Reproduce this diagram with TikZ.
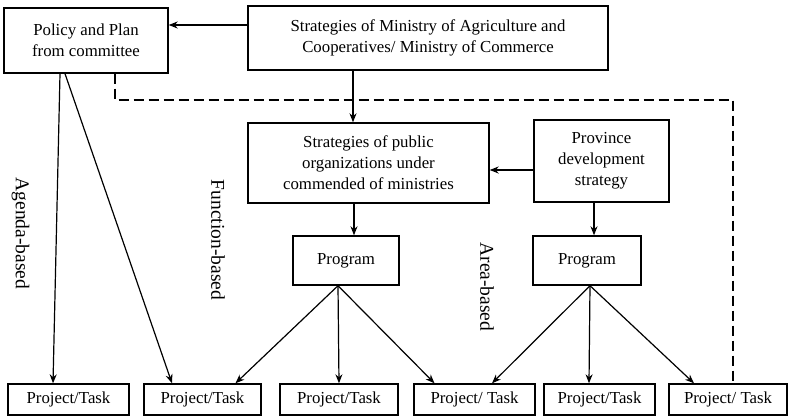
\documentclass[tikz,border=0pt]{standalone}
\usepackage{fontspec}
\setmainfont{Liberation Serif}
\usetikzlibrary{arrows.meta}

\begin{document}
\begin{tikzpicture}[x=1pt, y=-1pt, >={Stealth[length=9pt, width=7pt]},
	every box/.style={draw, line width=1.4pt, align=center, inner sep=0pt, font=\fontsize{16.8}{21}\selectfont},
	every link/.style={->, line width=1.2pt},
	every side/.style={rotate=-90, font=\fontsize{19.5}{22}\selectfont}]
	
	\useasboundingbox (0,0) rectangle (790,417);
	
	\node [every box, minimum width=164, minimum height=65] (policy) at (86,40.5) {Policy and Plan\\from committee};
	\node [every box, minimum width=360, minimum height=64] (ministry) at (428,38) {Strategies of Ministry of Agriculture and\\Cooperatives/ Ministry of Commerce};
	\node [every box, minimum width=241, minimum height=80] (public) at (368.5,163) {Strategies of public\\organizations under\\commended of ministries};
	\node [every box, minimum width=135, minimum height=82] (province) at (601.5,161) {Province\\development\\strategy};
	
	\foreach \x/\w [count=\i] in {346/106, 587/108}
	\node [every box, minimum width=\w, minimum height=49] (program-\i) at (\x,260.5) {Program};
	
	\foreach \x/\w/\t [count=\i] in {68.5/121/{Project/Task}, 202.5/117/{Project/Task}, 339/118/{Project/Task}, 474.5/121/{Project/ Task}, 599.5/111/{Project/Task}, 728/118/{Project/ Task}}
	\node [every box, minimum width=\w, minimum height=31] (project-\i) at (\x,399.5) {\t};
	
	\node [every side] (agenda) at (20.5,233.5) {Agenda-based};
	\node [every side] (function) at (218,240) {Function-based};
	\node [every side] (area) at (487,287) {Area-based};
	
	\draw [every link] ([yshift=13]ministry.west) -- ([yshift=15.5]policy.east);
	\draw [every link] ([xshift=-75]ministry.south) -- ([xshift=-15.5]public.north);
	\draw [every link] ([yshift=-9]province.west) -- ([yshift=-7]public.east);
	\draw [every link] ([xshift=-14.5]public.south) -- ([xshift=8]program-1.north);
	\draw [every link] ([xshift=-7.5]province.south) -- ([xshift=7]program-2.north);
	
	\draw [every link] ([xshift=-26]policy.south) -- ([xshift=-15.5]project-1.north);
	\draw [every link] ([xshift=-21]policy.south) -- ([xshift=-30.5]project-2.north);
	
	\foreach \j/\s in {2/33, 3/0, 4/-40}
	\draw [every link] ([xshift=-8]program-1.south) -- ([xshift=\s]project-\j.north);
	
	\foreach \j/\s in {4/17.5, 5/-10.5, 6/-34}
	\draw [every link] ([xshift=3]program-2.south) -- ([xshift=\s]project-\j.north);
	
	\coordinate (corner) at (733,100);
	\draw [dash pattern=on 10pt off 5pt, line width=1.2pt] ([xshift=29]policy.south) |- (corner) -- (corner |- project-6.north);
\end{tikzpicture}
\end{document}
